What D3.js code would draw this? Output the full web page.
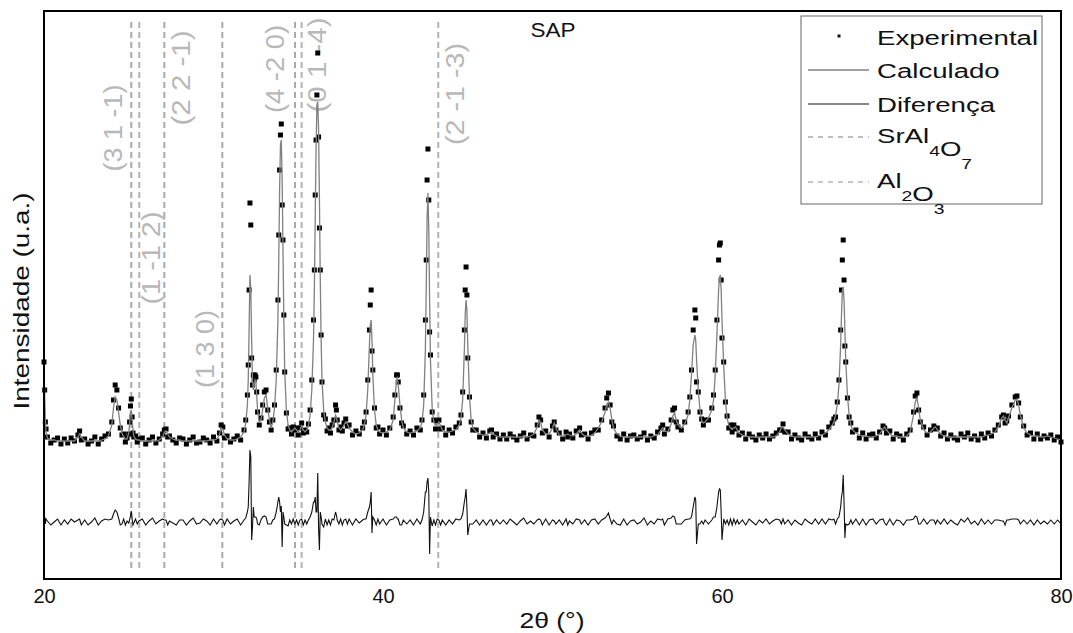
<!DOCTYPE html>
<html>
<head>
<meta charset="utf-8">
<script src="https://cdn.jsdelivr.net/npm/d3@7"></script>
<style>
  body { margin: 0; background: #fff; }
  text { font-family: "Liberation Sans", Arial, sans-serif; }
</style>
</head>
<body>
<svg id="chart" width="1073" height="633"></svg>
<script>
// 2theta scan positions (deg)
var twoTheta = [
  20.00, 20.04, 20.08, 20.12, 20.2, 20.4, 20.6, 20.8, 21.0, 21.2,
  21.4, 21.6, 21.8, 22.0, 22.1, 22.2, 22.4, 22.6, 22.8, 23.0,
  23.2, 23.4, 23.6, 23.8, 24.0, 24.1, 24.2, 24.3, 24.4, 24.5,
  24.6, 24.7, 24.8, 24.9, 25.0, 25.05, 25.1, 25.15, 25.2, 25.25,
  25.3, 25.4, 25.5, 25.6, 25.8, 26.0, 26.2, 26.4, 26.6, 26.8,
  27.0, 27.1, 27.2, 27.3, 27.4, 27.6, 27.8, 28.0, 28.2, 28.4,
  28.6, 28.8, 29.0, 29.2, 29.4, 29.6, 29.8, 30.0, 30.2, 30.35,
  30.45, 30.55, 30.65, 30.8, 31.0, 31.2, 31.4, 31.6, 31.8, 31.9,
  32.0, 32.05, 32.1, 32.15, 32.2, 32.25, 32.3, 32.35, 32.4, 32.45,
  32.5, 32.55, 32.6, 32.7, 32.8, 32.9, 33.0, 33.1, 33.2, 33.3,
  33.4, 33.5, 33.6, 33.7, 33.8, 33.85, 33.9, 33.95, 34.0, 34.05,
  34.1, 34.15, 34.2, 34.3, 34.4, 34.5, 34.6, 34.7, 34.8, 34.9,
  35.0, 35.1, 35.2, 35.3, 35.4, 35.5, 35.6, 35.7, 35.8, 35.9,
  35.95, 36.0, 36.05, 36.1, 36.15, 36.2, 36.25, 36.3, 36.35, 36.4,
  36.5, 36.6, 36.7, 36.8, 36.9, 37.0, 37.1, 37.2, 37.25, 37.3,
  37.4, 37.5, 37.6, 37.7, 37.8, 37.9, 38.0, 38.2, 38.4, 38.6,
  38.8, 38.9, 39.0, 39.1, 39.2, 39.25, 39.3, 39.35, 39.4, 39.5,
  39.6, 39.7, 39.8, 40.0, 40.2, 40.4, 40.6, 40.7, 40.8, 40.85,
  40.9, 41.0, 41.1, 41.2, 41.4, 41.6, 41.8, 42.0, 42.2, 42.3,
  42.4, 42.5, 42.55, 42.6, 42.65, 42.7, 42.75, 42.8, 42.9, 43.0,
  43.1, 43.2, 43.3, 43.4, 43.5, 43.7, 43.9, 44.1, 44.3, 44.5,
  44.6, 44.7, 44.8, 44.85, 44.9, 44.95, 45.0, 45.1, 45.2, 45.3,
  45.5, 45.7, 45.9, 46.1, 46.3, 46.4, 46.5, 46.7, 46.9, 47.1,
  47.3, 47.5, 47.7, 47.9, 48.1, 48.3, 48.5, 48.7, 48.9, 49.1,
  49.2, 49.3, 49.4, 49.6, 49.8, 50.0, 50.1, 50.2, 50.4, 50.6,
  50.8, 50.9, 51.0, 51.2, 51.4, 51.6, 51.7, 51.9, 52.1, 52.3,
  52.5, 52.7, 52.9, 53.1, 53.2, 53.3, 53.4, 53.5, 53.6, 53.8,
  54.0, 54.2, 54.4, 54.6, 54.8, 55.0, 55.2, 55.4, 55.6, 55.8,
  56.0, 56.2, 56.4, 56.5, 56.6, 56.8, 57.0, 57.1, 57.2, 57.3,
  57.4, 57.6, 57.8, 58.0, 58.1, 58.2, 58.3, 58.4, 58.45, 58.5,
  58.6, 58.7, 58.8, 58.9, 59.0, 59.2, 59.4, 59.5, 59.6, 59.7,
  59.8, 59.85, 59.9, 59.95, 60.0, 60.1, 60.2, 60.3, 60.4, 60.5,
  60.6, 60.7, 60.8, 60.9, 61.0, 61.2, 61.4, 61.6, 61.8, 62.0,
  62.2, 62.4, 62.6, 62.8, 63.0, 63.2, 63.4, 63.5, 63.6, 63.7,
  63.9, 64.1, 64.3, 64.5, 64.7, 64.9, 65.1, 65.3, 65.5, 65.7,
  65.9, 66.1, 66.3, 66.5, 66.6, 66.7, 66.8, 66.9, 67.0, 67.05,
  67.1, 67.15, 67.2, 67.25, 67.3, 67.4, 67.5, 67.6, 67.7, 67.9,
  68.1, 68.3, 68.5, 68.7, 68.9, 69.1, 69.3, 69.5, 69.6, 69.7,
  69.9, 70.1, 70.3, 70.5, 70.7, 70.9, 71.1, 71.3, 71.4, 71.5,
  71.6, 71.7, 71.9, 72.1, 72.3, 72.5, 72.6, 72.7, 72.9, 73.1,
  73.3, 73.5, 73.7, 73.9, 74.1, 74.3, 74.5, 74.7, 74.9, 75.1,
  75.3, 75.5, 75.7, 75.9, 76.1, 76.3, 76.5, 76.6, 76.7, 76.8,
  76.9, 77.1, 77.3, 77.4, 77.5, 77.6, 77.8, 78.0, 78.2, 78.4,
  78.6, 78.8, 79.0, 79.2, 79.4, 79.6, 79.8, 80.0
];

// Rietveld calculated profile (u.a.)
var yCalc = [
  215,185,160,148,142,140,140,139,139,139,
  139,139,139,143,146,143,139,139,139,139,
  139,140,141,144,155,172,183,180,168,155,
  147,143,141,141,147,156,168,170,160,150,
  144,141,140,140,139,139,139,139,139,140,
  143,148,149,146,143,141,140,140,139,139,
  139,139,139,139,139,139,140,140,141,145,
  152,151,145,141,140,140,141,143,148,156,
  175,200,250,305,290,240,200,190,195,200,
  198,185,170,158,160,170,182,185,172,160,
  152,158,172,200,260,320,390,435,440,400,
  330,260,210,170,155,150,148,150,152,150,
  148,150,154,150,148,150,154,165,190,240,
  290,360,430,475,478,450,380,300,240,200,
  170,158,152,150,150,152,158,165,163,158,
  152,150,152,155,158,156,152,148,146,147,
  150,155,165,190,235,255,260,240,205,170,
  155,150,148,147,148,150,160,180,200,202,
  195,175,160,152,148,147,148,149,152,158,
  175,230,290,360,387,350,280,220,172,158,
  154,156,158,154,150,148,148,149,150,155,
  162,180,230,265,280,270,235,185,160,152,
  148,146,145,145,147,148,146,144,143,143,
  143,143,143,143,143,143,143,144,146,153,
  160,158,150,146,146,152,157,152,145,144,
  145,146,145,144,146,150,147,144,144,145,
  147,152,158,168,176,178,172,160,152,146,
  144,143,143,143,143,143,143,143,143,143,
  144,145,150,152,149,148,156,164,167,160,
  155,152,156,165,180,205,235,245,240,220,
  190,170,160,157,158,162,170,180,205,245,
  290,302,305,290,260,215,180,162,155,152,
  151,152,153,150,147,145,144,143,143,143,
  143,143,143,143,143,144,148,152,153,150,
  146,144,143,143,143,143,143,143,143,144,
  145,147,150,155,158,165,175,195,235,265,
  290,293,280,250,220,185,165,155,150,147,
  145,144,144,143,143,144,146,151,153,150,
  146,144,144,143,143,144,148,165,178,182,
  172,160,150,147,148,152,153,150,146,144,
  143,143,143,143,143,143,143,143,143,143,
  143,144,145,146,148,153,162,164,160,157,
  162,172,180,181,175,165,152,147,145,144,
  144,143,143,144,143,142,141,140
];

// measured points (u.a.)
var yObs = [
  218,190,158,151,143,137,140,142,136,141,
  137,142,139,145,149,140,141,136,139,143,
  136,141,144,146,158,180,195,190,172,152,
  145,146,138,142,146,158,174,181,163,147,
  143,144,138,141,142,136,140,143,137,141,
  146,150,151,143,144,140,137,142,141,136,
  140,143,137,138,142,140,137,143,139,147,
  155,153,142,144,138,141,144,140,150,160,
  185,215,290,377,355,222,195,205,200,205,
  203,188,168,155,162,175,188,190,170,158,
  150,160,175,210,280,345,410,445,456,375,
  340,265,208,167,151,152,146,153,150,152,
  145,152,157,147,150,148,156,170,200,260,
  310,385,440,485,527,443,352,310,245,198,
  165,161,149,152,147,155,160,175,170,160,
  150,153,149,157,161,154,155,145,149,146,
  152,158,168,200,250,275,290,229,210,172,
  152,153,146,150,145,152,163,185,205,205,
  198,172,157,154,146,149,145,152,150,160,
  185,260,320,400,431,380,248,225,168,160,
  151,159,160,151,152,145,150,147,153,157,
  165,188,250,290,313,285,222,183,158,150,
  150,143,147,142,149,150,143,146,141,145,
  141,146,143,140,144,147,141,145,144,155,
  163,160,147,149,143,154,158,150,147,141,
  148,143,146,142,149,152,145,146,141,147,
  150,150,160,172,182,187,175,158,154,144,
  141,146,140,144,145,141,143,147,140,144,
  142,148,152,155,146,151,160,170,172,158,
  153,150,158,168,183,210,250,270,262,198,
  188,168,161,155,160,160,172,185,210,260,
  320,335,337,300,242,218,178,164,152,155,
  148,155,151,152,145,147,141,146,143,140,
  145,142,146,141,144,147,150,150,156,148,
  148,141,145,142,140,146,143,141,146,142,
  148,145,153,157,161,163,178,200,250,290,
  320,340,300,234,218,182,163,157,148,150,
  142,147,141,145,146,142,148,154,152,147,
  149,141,146,144,140,146,150,168,184,187,
  170,158,153,145,150,154,151,152,144,147,
  141,145,142,140,146,143,147,141,144,140,
  146,142,147,144,150,155,163,165,157,159,
  164,175,183,184,177,163,154,145,147,141,
  146,141,144,142,145,140,143,138
];

// reflection markers
var srPos = [25.15, 27.10, 30.52, 34.81];
var srHkl = ["(3 1 -1)", "(2 2 -1)", "(1 3 0)", "(4 -2 0)"];
var alPos = [25.62, 35.20, 43.26];
var alHkl = ["(1 -1 2)", "(0 1 -4)", "(2 -1 -3)"];

var xTicks = [20, 40, 60, 80];

// where the hkl labels sit: dx from line, centre y, length
var srLabelDx = [-18, 17, -17, -20], srLabelY = [128, 78, 349, 69], srLabelLen = [87, 95, 78, 88];
var alLabelDx = [12, 15, 17], alLabelY = [258, 65, 94], alLabelLen = [93, 95, 102];

var diffOffset = 58;

var svg = d3.select("#chart");
svg.append("rect").attr("width", 1073).attr("height", 633).attr("fill", "#fff");

var x = d3.scaleLinear().domain([20, 80]).range([44, 1061]);
var y = d3.scaleLinear().domain([0, 569]).range([580, 11]);

// reference lines + labels (behind data)
function refLines(pos, hkl, dx, ly, len, color) {
  var g = svg.append("g");
  g.selectAll("line").data(pos).enter().append("line")
    .attr("x1", function(d) { return x(d) }).attr("x2", function(d) { return x(d) })
    .attr("y1", 22).attr("y2", 570)
    .attr("stroke", color).attr("stroke-width", 2)
    .attr("stroke-dasharray", "6,4");
  g.selectAll("text").data(pos).enter().append("text")
    .attr("transform", function(d, i) { return "translate(" + (x(d) + dx[i]) + "," + ly[i] + ") rotate(-90)" })
    .attr("text-anchor", "middle")
    .attr("dominant-baseline", "central")
    .attr("font-size", 26)
    .attr("fill", "#b8b8b8")
    .attr("textLength", function(d, i) { return len[i] })
    .attr("lengthAdjust", "spacingAndGlyphs")
    .text(function(d, i) { return hkl[i] });
}
refLines(srPos, srHkl, srLabelDx, srLabelY, srLabelLen, "#a9a9a9");
refLines(alPos, alHkl, alLabelDx, alLabelY, alLabelLen, "#b3b3b3");

// experimental points
svg.append("g").selectAll("rect").data(twoTheta).enter().append("rect")
  .attr("x", function(d) { return x(d) - 2.5 })
  .attr("y", function(d, i) { return y(yObs[i]) - 2.5 })
  .attr("width", 5).attr("height", 5)
  .attr("fill", "#000");

// calculated
var line = d3.line().x(function(d) { return x(d[0]) }).y(function(d) { return y(d[1]) });
svg.append("path")
  .datum(twoTheta.map(function(t, i) { return [t, yCalc[i]] }))
  .attr("d", line)
  .attr("fill", "none").attr("stroke", "#808080").attr("stroke-width", 1.3);

// difference
svg.append("path")
  .datum(twoTheta.map(function(t, i) { return [t, diffOffset + yObs[i] - yCalc[i]] }))
  .attr("d", line)
  .attr("fill", "none").attr("stroke", "#111").attr("stroke-width", 1.1);

// frame
svg.append("rect")
  .attr("x", 44).attr("y", 11).attr("width", 1017).attr("height", 568)
  .attr("fill", "none").attr("stroke", "#000").attr("stroke-width", 2);

var xAxis = svg.append("g")
  .attr("transform", "translate(0,580)")
  .call(d3.axisBottom(x).tickValues(xTicks).tickSize(0).tickPadding(9));
xAxis.select(".domain").remove();
xAxis.attr("font-family", null);
xAxis.selectAll("text").attr("font-size", 20).attr("fill", "#111");

svg.append("text")
  .attr("x", 552).attr("y", 628)
  .attr("text-anchor", "middle")
  .attr("font-size", 22).attr("fill", "#111")
  .attr("textLength", 65).attr("lengthAdjust", "spacingAndGlyphs")
  .text("2θ (°)");

svg.append("text")
  .attr("transform", "translate(29,301) rotate(-90)")
  .attr("text-anchor", "middle")
  .attr("font-size", 22).attr("fill", "#111")
  .attr("textLength", 217).attr("lengthAdjust", "spacingAndGlyphs")
  .text("Intensidade (u.a.)");

svg.append("text")
  .attr("x", 553).attr("y", 37)
  .attr("text-anchor", "middle")
  .attr("font-size", 21).attr("fill", "#111")
  .attr("textLength", 45).attr("lengthAdjust", "spacingAndGlyphs")
  .text("SAP");

// legend
var leg = svg.append("g");
leg.append("rect")
  .attr("x", 801).attr("y", 16).attr("width", 241).attr("height", 188)
  .attr("fill", "#fff").attr("stroke", "#666").attr("stroke-width", 1);
leg.append("rect").attr("x", 837.5).attr("y", 34.5).attr("width", 3).attr("height", 3).attr("fill", "#111");
leg.append("line").attr("x1", 808).attr("x2", 869).attr("y1", 70).attr("y2", 70)
  .attr("stroke", "#808080").attr("stroke-width", 1.3);
leg.append("line").attr("x1", 808).attr("x2", 869).attr("y1", 104).attr("y2", 104)
  .attr("stroke", "#111").attr("stroke-width", 1.1);
leg.append("line").attr("x1", 808).attr("x2", 869).attr("y1", 137).attr("y2", 137)
  .attr("stroke", "#a9a9a9").attr("stroke-width", 1.5).attr("stroke-dasharray", "5,5");
leg.append("line").attr("x1", 808).attr("x2", 869).attr("y1", 182).attr("y2", 182)
  .attr("stroke", "#b3b3b3").attr("stroke-width", 1.5).attr("stroke-dasharray", "5,5");

function legText(yb, parts) {
  var t = leg.append("text")
    .attr("transform", "translate(877," + yb + ") scale(1.38,1)")
    .attr("font-size", 20).attr("fill", "#111");
  parts.forEach(function(p) {
    if (p.sub) {
      t.append("tspan").attr("font-size", 14).attr("dy", 13).text(p.s);
      t.append("tspan").attr("dy", -13).text("");
    } else {
      t.append("tspan").text(p.s);
    }
  });
}
legText(45, [{s: "Experimental"}]);
legText(78, [{s: "Calculado"}]);
legText(112, [{s: "Diferença"}]);
legText(143, [{s: "SrAl"}, {s: "4", sub: true}, {s: "O"}, {s: "7", sub: true}]);
legText(188, [{s: "Al"}, {s: "2", sub: true}, {s: "O"}, {s: "3", sub: true}]);
</script>
</body>
</html>
